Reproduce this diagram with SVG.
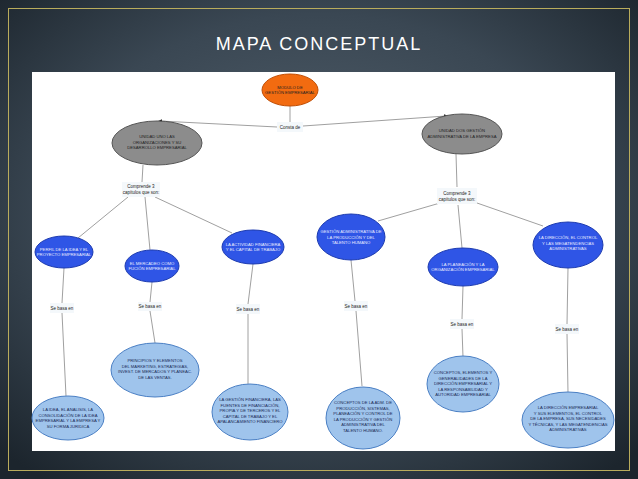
<svg xmlns="http://www.w3.org/2000/svg" width="638" height="479" viewBox="0 0 638 479">
<defs>
<radialGradient id="bg" cx="50%" cy="45%" r="70%">
<stop offset="0" stop-color="#55636f"/>
<stop offset="0.6" stop-color="#3a4753"/>
<stop offset="1" stop-color="#1c252d"/>
</radialGradient>
<marker id="dot" markerWidth="4" markerHeight="4" refX="2" refY="2" orient="auto" markerUnits="userSpaceOnUse">
<path d="M0,0 L4,2 L0,4 Z" fill="#222"/>
</marker>
<style>
.t{font-family:"Liberation Sans",Arial,sans-serif;text-anchor:middle}
.n{font-size:4.2px}
.w{fill:#e8ecff}
.d{fill:#1a2a55}
.k{fill:#222}
.orange{fill:#f26b10;stroke:#c04e05;stroke-width:1}
.gray{fill:#8c8c8c;stroke:#555;stroke-width:1}
.blue{fill:#2f55e6;stroke:#1d3bb0;stroke-width:1}
.lb{fill:#9fc4ec;stroke:#4a7fc4;stroke-width:1}
.lbl{fill:#f4f8fb;stroke:none}
.c line{stroke:#a0a0a0;stroke-width:1}
</style>
</defs>
<rect x="0" y="0" width="638" height="479" fill="url(#bg)"/>
<rect x="8.5" y="8.5" width="621" height="462" fill="none" stroke="#b9ac5c" stroke-width="1"/>
<text x="319" y="50" class="t" font-size="18" letter-spacing="2" fill="#ffffff">MAPA CONCEPTUAL</text>
<rect x="32" y="72" width="583" height="379" fill="#ffffff"/>

<g id="connectors" class="c">
<line x1="290" y1="106" x2="290" y2="122"/>
<line x1="277" y1="127" x2="160" y2="121" marker-end="url(#dot)"/>
<line x1="303" y1="126" x2="446" y2="116" marker-end="url(#dot)"/>
<line x1="143" y1="165" x2="142" y2="182"/>
<line x1="456" y1="154" x2="457" y2="187"/>
<line x1="128" y1="197" x2="78" y2="238"/>
<line x1="145" y1="197" x2="150" y2="250"/>
<line x1="155" y1="197" x2="232" y2="233"/>
<line x1="440" y1="203" x2="378" y2="221"/>
<line x1="458" y1="205" x2="462" y2="248"/>
<line x1="477" y1="203" x2="543" y2="226"/>
<line x1="64" y1="268" x2="62" y2="303"/>
<line x1="62" y1="313" x2="66" y2="396"/>
<line x1="152" y1="282" x2="150" y2="302"/>
<line x1="150" y1="311" x2="155" y2="343"/>
<line x1="253" y1="264" x2="248" y2="304"/>
<line x1="248" y1="314" x2="248" y2="384"/>
<line x1="351" y1="260" x2="355" y2="301"/>
<line x1="356" y1="311" x2="362" y2="386"/>
<line x1="463" y1="286" x2="462" y2="319"/>
<line x1="462" y1="329" x2="463" y2="357"/>
<line x1="568" y1="268" x2="567" y2="324"/>
<line x1="567" y1="334" x2="568" y2="393"/>
</g>

<g id="lbl-consta">
<rect x="277" y="122" width="26" height="10" class="lbl"/>
<text x="290" y="128.5" class="t k" font-size="4.5">Consta de</text>
</g>
<g id="lbl-comprende1">
<rect x="122" y="182" width="38" height="15" class="lbl"/>
<text x="141" y="188" class="t k" font-size="4.5">Comprende 3</text>
<text x="141" y="194" class="t k" font-size="4.5">capítulos que son:</text>
</g>
<g id="lbl-comprende2">
<rect x="437" y="188" width="40" height="16" class="lbl"/>
<text x="457" y="194.5" class="t k" font-size="4.5">Comprende 3</text>
<text x="457" y="200.5" class="t k" font-size="4.5">capítulos que son:</text>
</g>
<g id="lbl-sb1"><rect x="50" y="303" width="24" height="10" class="lbl"/><text x="62" y="309.5" class="t k" font-size="4.5">Se basa en</text></g>
<g id="lbl-sb2"><rect x="138" y="302" width="24" height="9" class="lbl"/><text x="150" y="308" class="t k" font-size="4.5">Se basa en</text></g>
<g id="lbl-sb3"><rect x="236" y="304" width="24" height="10" class="lbl"/><text x="248" y="310.5" class="t k" font-size="4.5">Se basa en</text></g>
<g id="lbl-sb4"><rect x="344" y="301" width="24" height="10" class="lbl"/><text x="356" y="307.5" class="t k" font-size="4.5">Se basa en</text></g>
<g id="lbl-sb5"><rect x="450" y="319" width="24" height="10" class="lbl"/><text x="462" y="325.5" class="t k" font-size="4.5">Se basa en</text></g>
<g id="lbl-sb6"><rect x="555" y="324" width="24" height="10" class="lbl"/><text x="567" y="330.5" class="t k" font-size="4.5">Se basa en</text></g>

<g id="n-modulo">
<ellipse cx="290" cy="90" rx="28" ry="16" class="orange"/>
<text x="290" y="89" class="t n k">MODULO DE</text>
<text x="290" y="94" class="t n k">GESTIÓN EMPRESARIAL</text>
</g>
<g id="n-unidad1">
<ellipse cx="157" cy="143" rx="45" ry="22" class="gray"/>
<text x="157" y="138" class="t n k">UNIDAD UNO LAS</text>
<text x="157" y="143.5" class="t n k">ORGANIZACIONES Y SU</text>
<text x="157" y="149" class="t n k">DESARROLLO EMPRESARIAL</text>
</g>
<g id="n-unidad2">
<ellipse cx="462" cy="134" rx="40" ry="20" class="gray"/>
<text x="462" y="132" class="t n k">UNIDAD DOS GESTIÓN</text>
<text x="462" y="137.5" class="t n k">ADMINISTRATIVA DE LA EMPRESA</text>
</g>

<g id="n-perfil">
<ellipse cx="64" cy="252" rx="29" ry="16" class="blue"/>
<text x="64" y="251" class="t n w">PERFIL DE LA IDEA Y EL</text>
<text x="64" y="256" class="t n w">PROYECTO EMPRESARIAL</text>
</g>
<g id="n-mercadeo">
<ellipse cx="152" cy="266" rx="27" ry="16" class="blue"/>
<text x="152" y="265" class="t n w">EL MERCADEO COMO</text>
<text x="152" y="270" class="t n w">FUCIÓN EMPRESARIAL</text>
</g>
<g id="n-financiera">
<ellipse cx="253" cy="247" rx="31" ry="17" class="blue"/>
<text x="253" y="246" class="t n w">LA ACTIVIDAD FINANCIERA</text>
<text x="253" y="251" class="t n w">Y EL CAPITAL DE TRABAJO</text>
</g>
<g id="n-produccion">
<ellipse cx="351" cy="237" rx="34" ry="23" class="blue"/>
<text x="351" y="233" class="t n w">GESTIÓN ADMINISTRATIVA DE</text>
<text x="351" y="238.5" class="t n w">LA PRODUCCIÓN Y DEL</text>
<text x="351" y="244" class="t n w">TALENTO HUMANO</text>
</g>
<g id="n-planeacion">
<ellipse cx="463" cy="267" rx="35" ry="19" class="blue"/>
<text x="463" y="266" class="t n w">LA PLANEACIÓN Y LA</text>
<text x="463" y="271" class="t n w">ORGANIZACIÓN EMPRESARIAL</text>
</g>
<g id="n-direccion">
<ellipse cx="568" cy="245" rx="35" ry="23" class="blue"/>
<text x="568" y="239" class="t n w">LA DIRECCIÓN, EL CONTROL</text>
<text x="568" y="244.5" class="t n w">Y LAS MEGATENDENCIAS</text>
<text x="568" y="250" class="t n w">ADMINISTRATIVAS</text>
</g>

<g id="n-idea">
<ellipse cx="68" cy="418" rx="36" ry="22" class="lb"/>
<text x="68" y="411" class="t n d">LA IDEA, EL ANÁLISIS, LA</text>
<text x="68" y="416.5" class="t n d">CONSOLIDACIÓN DE LA IDEA</text>
<text x="68" y="422" class="t n d">EMPRESARIAL Y LA EMPRESA Y</text>
<text x="68" y="427.5" class="t n d">SU FORMA JURÍDICA</text>
</g>
<g id="n-marketing">
<ellipse cx="155" cy="370" rx="44" ry="27" class="lb"/>
<text x="155" y="362" class="t n d">PRINCIPIOS Y ELEMENTOS</text>
<text x="155" y="367.5" class="t n d">DEL MARKETING, ESTRATEGIAS,</text>
<text x="155" y="373" class="t n d">INVEST. DE MERCADOS Y PLANEAC.</text>
<text x="155" y="378.5" class="t n d">DE LAS VENTAS.</text>
</g>
<g id="n-gestionfin">
<ellipse cx="250" cy="412" rx="38" ry="28" class="lb"/>
<text x="250" y="401" class="t n d">LA GESTIÓN FINANCIERA, LAS</text>
<text x="250" y="406.5" class="t n d">FUENTES DE FINANCIACIÓN,</text>
<text x="250" y="412" class="t n d">PROPIA Y DE TERCEROS Y EL</text>
<text x="250" y="417.5" class="t n d">CAPITAL DE TRABAJO Y EL</text>
<text x="250" y="423" class="t n d">APALANCAMIENTO FINANCIERO</text>
</g>
<g id="n-conceptos-adm">
<ellipse cx="363" cy="418" rx="37" ry="31" class="lb"/>
<text x="363" y="404" class="t n d">CONCEPTOS DE LA ADM. DE</text>
<text x="363" y="409.5" class="t n d">PRODUCCIÓN, SISTEMAS,</text>
<text x="363" y="415" class="t n d">PLANEACIÓN Y CONTROL DE</text>
<text x="363" y="420.5" class="t n d">LA PRODUCCIÓN Y GESTIÓN</text>
<text x="363" y="426" class="t n d">ADMINISTRATIVA DEL</text>
<text x="363" y="431.5" class="t n d">TALENTO HUMANO.</text>
</g>
<g id="n-conceptos-dir">
<ellipse cx="463" cy="384" rx="36" ry="28" class="lb"/>
<text x="463" y="374" class="t n d">CONCEPTOS, ELEMENTOS Y</text>
<text x="463" y="379.5" class="t n d">GENERALIDADES DE LA</text>
<text x="463" y="385" class="t n d">DIRECCIÓN EMPRESARIAL Y</text>
<text x="463" y="390.5" class="t n d">LA RESPONSABILIDAD Y</text>
<text x="463" y="396" class="t n d">AUTORIDAD EMPRESARIAL</text>
</g>
<g id="n-direccion-emp">
<ellipse cx="568" cy="420" rx="46" ry="28" class="lb"/>
<text x="568" y="409" class="t n d">LA DIRECCIÓN EMPRESARIAL</text>
<text x="568" y="414.5" class="t n d">Y SUS ELEMENTOS, EL CONTROL</text>
<text x="568" y="420" class="t n d">DE LA EMPRESA, SUS NECESIDADES</text>
<text x="568" y="425.5" class="t n d">Y TÉCNICAS, Y LAS MEGATENDENCIAS</text>
<text x="568" y="431" class="t n d">ADMINISTRATIVAS</text>
</g>
</svg>
